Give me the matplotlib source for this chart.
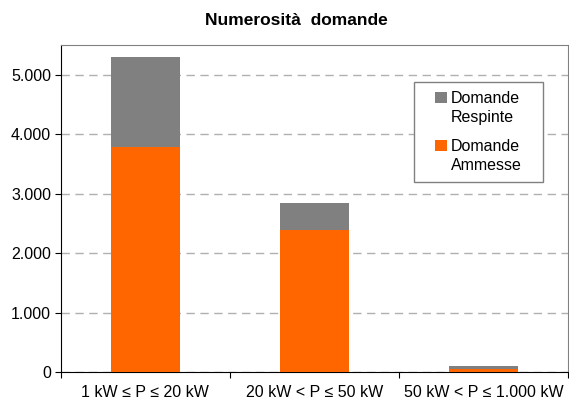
import matplotlib
matplotlib.use("Agg")
import matplotlib.pyplot as plt
import numpy as np
from matplotlib.patches import Rectangle
from matplotlib.container import BarContainer
from matplotlib.legend_handler import HandlerPatch
from matplotlib.ticker import FuncFormatter, FixedLocator

plt.rcParams["font.family"] = ["Liberation Sans", "DejaVu Sans"]

# ── data ─────────────────────────────────────────────────────────────────────
categories = ["1 kW ≤ P ≤ 20 kW", "20 kW < P ≤ 50 kW", "50 kW < P ≤ 1.000 kW"]
ammesse = [3790, 2390, 55]
respinte = [1500, 455, 40]

orange = "#FF6600"
grey = "#808080"

fig = plt.figure(figsize=(5.69, 4.01), dpi=100)
ax = fig.add_axes([0.107, 0.072, 0.891, 0.816])

x = np.arange(len(categories))
ax.bar(x, ammesse, width=0.41, color=orange, label="Domande\nAmmesse", zorder=3)
ax.bar(x, respinte, width=0.41, bottom=ammesse, color=grey,
       label="Domande\nRespinte", zorder=3)

ax.set_xlim(-0.5, len(categories) - 0.5)
ax.set_ylim(0, 5500)
ax.set_yticks(np.arange(0, 5001, 1000))
ax.yaxis.set_major_formatter(FuncFormatter(lambda v, p: f"{int(v):,}".replace(",", ".")))
ax.grid(axis="y", color="#b0b0b0", linestyle=(0, (6, 4)), linewidth=1, zorder=0)

# category labels between boundary ticks
ax.xaxis.set_major_locator(FixedLocator(np.arange(-0.5, len(categories), 1)))
ax.xaxis.set_major_formatter(FuncFormatter(lambda v, p: ""))
ax.set_xticks(x, minor=True)
ax.set_xticklabels(categories, minor=True)
ax.tick_params(axis="x", which="minor", length=0, pad=9, labelsize=11.5)
ax.tick_params(axis="x", which="major", length=4, direction="out")
ax.tick_params(axis="y", length=4, direction="out", labelsize=11.5, pad=3)

for s in ["left", "bottom"]:
    ax.spines[s].set_color("black")
for s in ["top", "right"]:
    ax.spines[s].set_color("#808080")

# legend: square marker next to the first line, box drawn separately
def top_square(legend, orig_handle, xdescent, ydescent, width, height, fontsize):
    return Rectangle((-xdescent, -ydescent + 0.7 * fontsize), width, height)

def from_first_bar(tgt, orig):
    tgt.update_from(orig.patches[0])

box = Rectangle((0.696, 0.581), 0.255, 0.306, transform=ax.transAxes,
                facecolor="white", edgecolor="#808080", linewidth=1, zorder=4)
ax.add_patch(box)

handles, labels = ax.get_legend_handles_labels()
leg = ax.legend(handles[::-1], labels[::-1], loc="center",
                bbox_to_anchor=(0.8235, 0.734), fontsize=11.5, frameon=False,
                handlelength=0.7, handleheight=0.7, handletextpad=0.25,
                labelspacing=0.9, borderpad=0, borderaxespad=0,
                handler_map={BarContainer: HandlerPatch(patch_func=top_square,
                                                        update_func=from_first_bar)})
for t in leg.get_texts():
    t.set_linespacing(1.3)
leg.set_zorder(5)

fig.text(0.52, 0.95, "Numerosità  domande", ha="center", va="center",
         fontsize=12.5, fontweight="bold")

fig.savefig("out.png", dpi=100)
